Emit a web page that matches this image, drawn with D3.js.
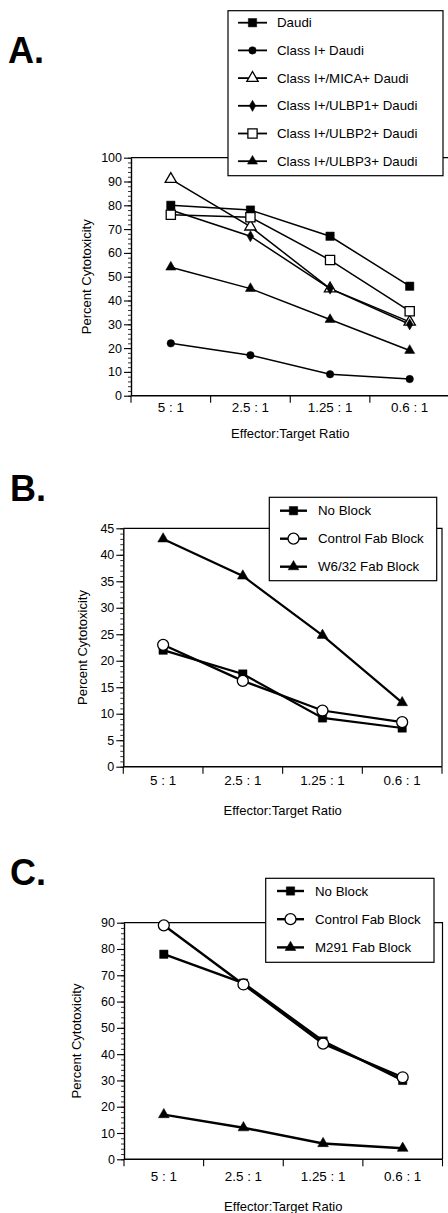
<!DOCTYPE html>
<html>
<head>
<meta charset="utf-8">
<script src="https://cdn.jsdelivr.net/npm/d3@7"></script>
<style>
  body { margin: 0; background: #fff; }
  svg { display: block; font-family: "Liberation Sans", Arial, sans-serif; }
  .tick text { font-size: 12.5px; fill: #000; }
  .axisLb { font-size: 13px; text-anchor: middle; }
  .legendTx { font-size: 13.3px; }
</style>
</head>
<body>
<div id="main"></div>
<script>
// effector:target ratios (x categories)
var ratios = ["5 : 1", "2.5 : 1", "1.25 : 1", "0.6 : 1"];

// panel A
var aNames = ["Daudi", "Class I+ Daudi", "Class I+/MICA+ Daudi", "Class I+/ULBP1+ Daudi", "Class I+/ULBP2+ Daudi", "Class I+/ULBP3+ Daudi"];
var aDaudi = [80, 78, 67, 46];
var aClassI = [22, 17, 9, 7];
var aMica = [91, 71, 45, 31];
var aUlbp1 = [78, 67, 45, 30];
var aUlbp2 = [76, 75, 57, 35.5];
var aUlbp3 = [54, 45, 32, 19];
var aTicks = [0, 10, 20, 30, 40, 50, 60, 70, 80, 90, 100];

// panel B
var bNames = ["No Block", "Control Fab Block", "W6/32 Fab Block"];
var bNoBlock = [22, 17.5, 9.2, 7.3];
var bControl = [23, 16.2, 10.6, 8.4];
var bW632 = [43, 36, 24.8, 12.1];
var bTicks = [0, 5, 10, 15, 20, 25, 30, 35, 40, 45];

// panel C
var cNames = ["No Block", "Control Fab Block", "M291 Fab Block"];
var cNoBlock = [78, 67, 45, 30];
var cControl = [89, 66.5, 44, 31.2];
var cM291 = [17, 12, 6, 4.2];
var cTicks = [0, 10, 20, 30, 40, 50, 60, 70, 80, 90];

var ctx = { w: 448, h: 1213 };

var panels = [
  { label: "A.", lx: 8, ly: 63,
    x0: 131, x1: 449.5, yTop: 157.7, yBot: 395.7, ymax: 100, ticks: aTicks, minor: 2,
    tickDy: 16, xlabY: 438, ylabX: 91, lw: 1.5,
    legend: { x: 228, y: 10.7, w: 215, h: 165, row0: 22.7, step: 27.7, lineX0: 238, lineX1: 267, textX: 277 },
    series: [
      { name: aNames[0], vals: aDaudi, mk: "square", fill: true },
      { name: aNames[1], vals: aClassI, mk: "circle", fill: true },
      { name: aNames[2], vals: aMica, mk: "triangle", fill: false },
      { name: aNames[3], vals: aUlbp1, mk: "diamond", fill: true },
      { name: aNames[4], vals: aUlbp2, mk: "square", fill: false },
      { name: aNames[5], vals: aUlbp3, mk: "triangle", fill: true }
    ] },
  { label: "B.", lx: 10, ly: 501,
    x0: 123.3, x1: 442, yTop: 528.3, yBot: 766.7, ymax: 45, ticks: bTicks, minor: 1,
    tickDy: 18, xlabY: 814.5, ylabX: 87, lw: 2.2,
    legend: { x: 269.3, y: 497.3, w: 167.4, h: 83.4, row0: 510.7, step: 28, lineX0: 280, lineX1: 307, textX: 318 },
    series: [
      { name: bNames[0], vals: bNoBlock, mk: "square", fill: true },
      { name: bNames[1], vals: bControl, mk: "circle", fill: false },
      { name: bNames[2], vals: bW632, mk: "triangle", fill: true }
    ] },
  { label: "C.", lx: 10, ly: 885,
    x0: 124, x1: 442.5, yTop: 922.7, yBot: 1159.3, ymax: 90, ticks: cTicks, minor: 2,
    tickDy: 22, xlabY: 1210.5, ylabX: 81, lw: 2.4,
    legend: { x: 265.7, y: 878.3, w: 168.3, h: 84, row0: 891, step: 28.2, lineX0: 277, lineX1: 304, textX: 315 },
    series: [
      { name: cNames[0], vals: cNoBlock, mk: "square", fill: true },
      { name: cNames[1], vals: cControl, mk: "circle", fill: false },
      { name: cNames[2], vals: cM291, mk: "triangle", fill: true }
    ] }
];

var markerPath = function(mk, fill, big) {
  var type, size;
  if (mk === "square") { type = d3.symbolSquare; size = fill ? 70 : 85; }
  else if (mk === "circle") { type = d3.symbolCircle; size = fill ? Math.PI * 14 : Math.PI * 30; }
  else if (mk === "triangle") { type = d3.symbolTriangle; size = fill ? 44 : 56; }
  else { type = d3.symbolDiamond; size = 36; }
  if (big && mk === "triangle") size = 50;
  return d3.symbol().type(type).size(size)();
};

var drawMarker = function(g, s, x, y, big) {
  g.append("path")
    .attr("d", markerPath(s.mk, s.fill, big))
    .attr("transform", `translate(${x},${y})`)
    .attr("fill", s.fill ? "#000" : "#fff")
    .attr("stroke", "#000")
    .attr("stroke-width", s.fill ? 0.5 : 1.3);
};

var drawPanel = function(svg, p) {
  var g = svg.append("g");
  var big = p.series.length === 3;

  var xScale = d3.scaleBand().domain(ratios).range([p.x0, p.x1]).paddingInner(0).paddingOuter(0);
  var yScale = d3.scaleLinear().domain([0, p.ymax]).range([p.yBot, p.yTop]);

  // panel letter
  g.append("text")
    .attr("x", p.lx).attr("y", p.ly)
    .style("font-size", "36px").style("font-weight", "bold")
    .text(p.label);

  // plot frame (top and right)
  g.append("path")
    .attr("d", `M${p.x0},${p.yTop}H${p.x1}V${p.yBot}`)
    .attr("fill", "none").attr("stroke", "#000").attr("stroke-width", 1.2);

  // minor y ticks
  g.append("g")
    .attr("transform", `translate(${p.x0},0)`)
    .call(d3.axisLeft(yScale).tickValues(d3.range(0, p.ymax + 0.001, p.minor)).tickSize(3).tickFormat(""))
    .call(a => a.select(".domain").remove())
    .selectAll("line").attr("stroke-width", 0.8);

  // major y ticks
  g.append("g")
    .attr("transform", `translate(${p.x0},0)`)
    .call(d3.axisLeft(yScale).tickValues(p.ticks).tickSize(7).tickSizeOuter(0).tickPadding(2))
    .call(a => a.select(".domain").attr("stroke-width", 1.4))
    .selectAll("line").attr("stroke-width", 1.1);

  // x axis with ticks at category boundaries
  var bounds = d3.range(ratios.length + 1).map(i => p.x0 + i * xScale.step());
  var xg = g.append("g");
  xg.append("line")
    .attr("x1", p.x0).attr("x2", p.x1).attr("y1", p.yBot).attr("y2", p.yBot)
    .attr("stroke", "#000").attr("stroke-width", 1.4);
  xg.selectAll("line.xt").data(bounds).enter().append("line")
    .attr("class", "xt")
    .attr("x1", d => d).attr("x2", d => d)
    .attr("y1", p.yBot).attr("y2", p.yBot + 7)
    .attr("stroke", "#000").attr("stroke-width", 1.1);
  xg.selectAll("text").data(ratios).enter().append("text")
    .attr("x", d => xScale(d) + xScale.bandwidth() / 2)
    .attr("y", p.yBot + p.tickDy)
    .attr("text-anchor", "middle")
    .style("font-size", "13.4px")
    .text(d => d);

  // axis labels
  g.append("text")
    .attr("class", "axisLb")
    .attr("x", (p.x0 + p.x1) / 2).attr("y", p.xlabY)
    .text("Effector:Target Ratio");
  g.append("text")
    .attr("class", "axisLb")
    .attr("transform", `translate(${p.ylabX},${(p.yTop + p.yBot) / 2}) rotate(-90)`)
    .text("Percent Cytotoxicity");

  // series
  var line = d3.line()
    .x((d, i) => xScale(ratios[i]) + xScale.bandwidth() / 2)
    .y(d => yScale(d));
  p.series.forEach(s => {
    g.append("path")
      .attr("d", line(s.vals))
      .attr("fill", "none").attr("stroke", "#000").attr("stroke-width", p.lw);
  });
  p.series.forEach(s => {
    s.vals.forEach((v, i) => {
      drawMarker(g, s, xScale(ratios[i]) + xScale.bandwidth() / 2, yScale(v), big);
    });
  });

  // legend
  var L = p.legend;
  var lg = g.append("g");
  lg.append("rect")
    .attr("x", L.x).attr("y", L.y).attr("width", L.w).attr("height", L.h)
    .attr("fill", "#fff").attr("stroke", "#000").attr("stroke-width", 1.2);
  p.series.forEach((s, i) => {
    var yy = L.row0 + i * L.step;
    lg.append("line")
      .attr("x1", L.lineX0).attr("x2", L.lineX1).attr("y1", yy).attr("y2", yy)
      .attr("stroke", "#000").attr("stroke-width", big ? 2.4 : 1.8);
    drawMarker(lg, s, (L.lineX0 + L.lineX1) / 2, yy, big);
    lg.append("text")
      .attr("class", "legendTx")
      .attr("x", L.textX).attr("y", yy + 4.5)
      .text(s.name);
  });
};

var createViz = function() {
  var svg = d3.select("#main").append("svg")
    .attr("width", ctx.w).attr("height", ctx.h);
  svg.append("rect").attr("width", ctx.w).attr("height", ctx.h).attr("fill", "#fff");
  panels.forEach(p => drawPanel(svg, p));
};

createViz();
</script>
</body>
</html>
